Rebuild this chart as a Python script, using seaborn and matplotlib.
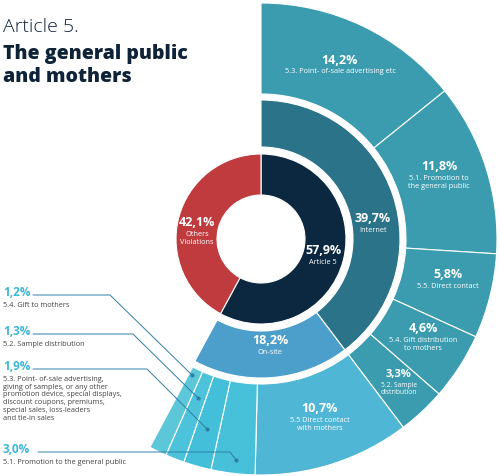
import matplotlib
matplotlib.use("Agg")
import matplotlib.pyplot as plt
import seaborn as sns

# data
inner_labels = ['Article 5', 'Others\nViolations']
inner_values = [57.9, 42.1]
inner_colors = ['#0c2840', '#bf3b3e']

mid_labels = ['Internet', 'On-site']
mid_values = [39.7, 18.2]
mid_colors = ['#2a7388', '#4d9fcb']

outer_labels = ['5.3. Point- of-sale advertising etc',
                '5.1. Promotion to\nthe general public',
                '5.5. Direct contact',
                '5.4. Gift distribution\nto mothers',
                '5.2. Sample\ndistribution',
                '5.5 Direct contact\nwith mothers',
                '5.1. Promotion to the general public',
                '5.3. Point- of-sale advertising,\ngiving of samples, or any other\npromotion device, special displays,\ndiscount coupons, premiums,\nspecial sales, loss-leaders\nand tie-in sales',
                '5.2. Sample distribution',
                '5.4. Gift to mothers']
outer_values = [14.2, 11.8, 5.8, 4.6, 3.3, 10.7, 3.0, 1.9, 1.3, 1.2]
outer_colors = ['#3a9cae', '#3a9cae', '#3a9cae', '#3a9cae', '#3a9cae',
                '#50b6d6', '#47c0da', '#44bfd9', '#4cc3db', '#5dc7da']

sns.set_theme(style='white')
plt.rcParams['font.family'] = ['Open Sans', 'DejaVu Sans']

W, H = 500, 476
fig = plt.figure(figsize=(W / 100, H / 100), dpi=100)
ax = fig.add_axes([0, 0, 1, 1])

def Y(y):
    return H - y

cx, cy = 261, Y(239)

def ring(values, colors, r, w):
    rest = 100 - sum(values)
    vals = list(values) + ([rest] if rest > 0.01 else [])
    cols = list(colors) + (['none'] if rest > 0.01 else [])
    wedges, _ = ax.pie(vals, colors=cols, radius=r, center=(cx, cy),
                       startangle=90, counterclock=False, frame=True,
                       wedgeprops=dict(width=w, edgecolor='white', linewidth=0.8))
    if rest > 0.01:
        wedges[-1].set_edgecolor('none')
    return wedges

ring(inner_values, inner_colors, 85, 41)
ring(mid_values, mid_colors, 139, 47)
ring(outer_values, outer_colors, 236, 91)

ax.set_xlim(0, W)
ax.set_ylim(0, H)
ax.set_aspect('equal')
ax.axis('off')

# title
navy = '#0e2338'
ax.text(3, Y(32), 'Article 5.', fontsize=14, color=navy, fontweight='light', va='baseline')
ax.text(3, Y(59), 'The general public', fontsize=14, color=navy, fontweight='heavy', va='baseline')
ax.text(3, Y(82), 'and mothers', fontsize=14, color=navy, fontweight='heavy', va='baseline')

def inside(x, y, pct, label, ps=9, ls=5.3):
    ax.text(x, Y(y), pct, fontsize=ps, color='white', fontweight='bold', ha='center', va='center')
    ax.text(x, Y(y + 8), label, fontsize=ls, color='white', ha='center', va='top', linespacing=1.1)

inside(197, 223, '42,1%', inner_labels[1])
inside(323, 251, '57,9%', inner_labels[0])
inside(373, 219, '39,7%', mid_labels[0])
inside(270, 341, '18,2%', mid_labels[1])
inside(340, 60, '14,2%', outer_labels[0])
inside(439, 167, '11,8%', outer_labels[1])
inside(448, 275, '5,8%', outer_labels[2])
inside(423, 329, '4,6%', outer_labels[3])
inside(399, 374, '3,3%', outer_labels[4], ps=8, ls=4.8)
inside(320, 409, '10,7%', outer_labels[5])

# left callouts
cyan = '#3db8d8'
line_c = '#2e7fa6'

def callout(ty, pct, label, x0, xb, px, py):
    ax.text(3, Y(ty), pct, fontsize=8.5, color=cyan, fontweight='bold', va='baseline')
    ax.text(3, Y(ty + 6), label, fontsize=5.3, color='#444444', va='top', linespacing=1.15)
    ax.plot([x0, xb, px], [Y(ty - 1), Y(ty - 1), Y(py)], color=line_c, lw=0.7)
    ax.plot([px], [Y(py)], 'o', color=line_c, ms=2)

callout(296, '1,2%', outer_labels[9], 33, 110, 192, 375)
callout(335, '1,3%', outer_labels[8], 33, 133, 198, 398)
callout(370, '1,9%', outer_labels[7], 33, 147, 207, 429)
callout(453, '3,0%', outer_labels[6], 38, 230, 236, 460)

fig.savefig('out.png', dpi=100)
